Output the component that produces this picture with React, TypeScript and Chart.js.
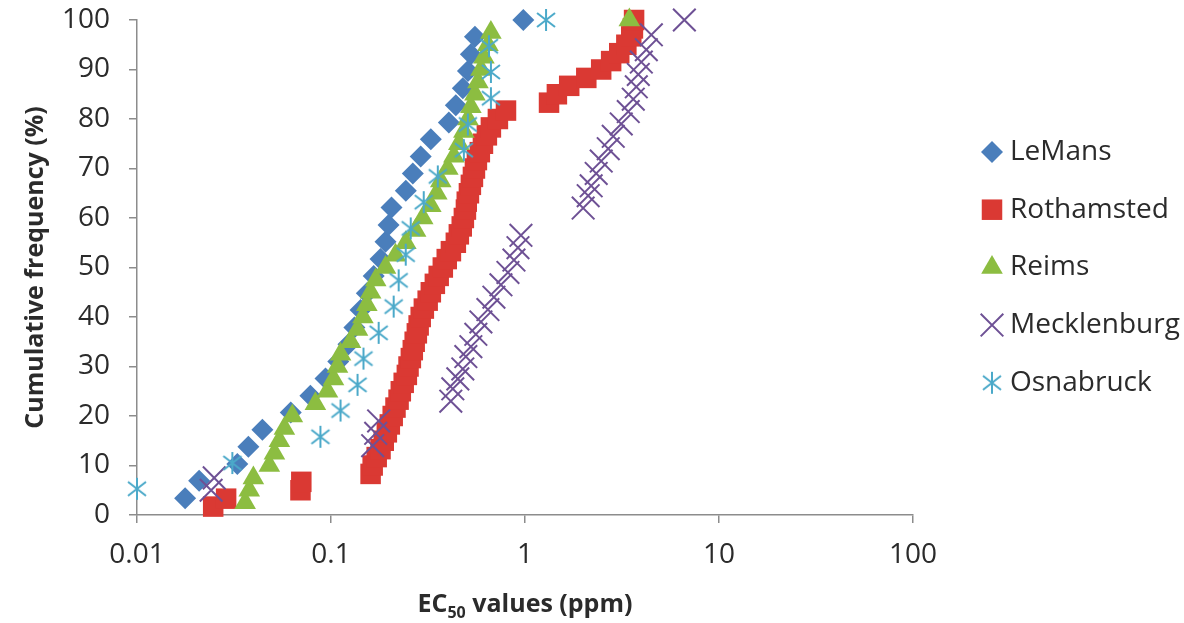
import React, { useEffect, useRef } from 'react';
import { Chart, registerables } from 'chart.js';
import { drawPoint } from 'chart.js/helpers';

Chart.register(...registerables);

const seriesNames = ['LeMans', 'Rothamsted', 'Reims', 'Mecklenburg', 'Osnabruck'];
const xTickValues = [0.01, 0.1, 1, 10, 100];
const xTickLabels = ['0.01', '0.1', '1', '10', '100'];

const leMansEC50 = [0.0177, 0.0209, 0.0329, 0.0375, 0.0443, 0.062, 0.0783, 0.0937, 0.109, 0.123, 0.132, 0.142, 0.153, 0.166, 0.18, 0.191, 0.198, 0.205, 0.243, 0.264, 0.29, 0.327, 0.405, 0.44, 0.478, 0.508, 0.526, 0.552, 0.98];
const leMansFreq = [3.4, 6.9, 10.3, 13.8, 17.2, 20.7, 24.1, 27.6, 31.0, 34.5, 37.9, 41.4, 44.8, 48.3, 51.7, 55.2, 58.6, 62.1, 65.5, 69.0, 72.4, 75.9, 79.3, 82.8, 86.2, 89.7, 93.1, 96.6, 100];

const rothamstedEC50 = [0.0247, 0.0288, 0.0696, 0.0703, 0.16, 0.164, 0.172, 0.18, 0.187, 0.194, 0.201, 0.208, 0.215, 0.223, 0.229, 0.237, 0.246, 0.251, 0.258, 0.264, 0.27, 0.277, 0.283, 0.29, 0.301, 0.315, 0.327, 0.343, 0.359, 0.377, 0.395, 0.415, 0.44, 0.456, 0.472, 0.484, 0.496, 0.501, 0.514, 0.526, 0.539, 0.552, 0.565, 0.585, 0.607, 0.636, 0.667, 0.725, 0.798, 1.33, 1.46, 1.69, 2.07, 2.47, 2.78, 3.06, 3.33, 3.53, 3.6, 3.65];
const rothamstedFreq = [1.7, 3.3, 5.0, 6.7, 8.3, 10.0, 11.7, 13.3, 15.0, 16.7, 18.3, 20.0, 21.7, 23.3, 25.0, 26.7, 28.3, 30.0, 31.7, 33.3, 35.0, 36.7, 38.3, 40.0, 41.7, 43.3, 45.0, 46.7, 48.3, 50.0, 51.7, 53.3, 55.0, 56.7, 58.3, 60.0, 61.7, 63.3, 65.0, 66.7, 68.3, 70.0, 71.7, 73.3, 75.0, 76.7, 78.3, 80.0, 81.7, 83.3, 85.0, 86.7, 88.3, 90.0, 91.7, 93.3, 95.0, 96.7, 98.3, 100];

const reimsEC50 = [0.0361, 0.0379, 0.0398, 0.0481, 0.0511, 0.0542, 0.0575, 0.0632, 0.0831, 0.0959, 0.103, 0.108, 0.112, 0.126, 0.137, 0.146, 0.153, 0.16, 0.17, 0.191, 0.215, 0.243, 0.273, 0.297, 0.327, 0.351, 0.368, 0.4, 0.43, 0.456, 0.484, 0.508, 0.526, 0.552, 0.572, 0.593, 0.614, 0.644, 0.667, 3.45];
const reimsFreq = [2.5, 5.0, 7.5, 10.0, 12.5, 15.0, 17.5, 20.0, 22.5, 25.0, 27.5, 30.0, 32.5, 35.0, 37.5, 40.0, 42.5, 45.0, 47.5, 50.0, 52.5, 55.0, 57.5, 60.0, 62.5, 65.0, 67.5, 70.0, 72.5, 75.0, 77.5, 80.0, 82.5, 85.0, 87.5, 90.0, 92.5, 95.0, 97.5, 100];

const mecklenburgEC50 = [0.0241, 0.025, 0.164, 0.17, 0.176, 0.4145, 0.4245, 0.4506, 0.478, 0.4955, 0.526, 0.558, 0.5925, 0.644, 0.6915, 0.7516, 0.8168, 0.8772, 0.92, 0.953, 1.994, 2.117, 2.193, 2.328, 2.471, 2.686, 2.85, 3.134, 3.406, 3.615, 3.747, 3.837, 3.977, 4.22, 4.48, 6.63];
const mecklenburgFreq = [5.0, 7.5, 14.0, 16.5, 19.0, 23.0, 25.5, 27.5, 29.5, 32.0, 34.0, 36.5, 39.0, 41.5, 44.0, 46.5, 49.0, 51.5, 54.0, 56.5, 62.0, 64.5, 66.5, 69.0, 71.5, 74.0, 76.5, 79.0, 81.5, 84.0, 86.5, 89.0, 91.5, 94.0, 97.0, 100];

const osnabruckEC50 = [0.01, 0.031, 0.0882, 0.112, 0.137, 0.147, 0.176, 0.2104, 0.2233, 0.2427, 0.2575, 0.3006, 0.3552, 0.484, 0.5075, 0.667, 0.667, 0.652, 1.284];
const osnabruckFreq = [5.3, 10.5, 15.8, 21.1, 26.3, 31.6, 36.8, 42.1, 47.4, 52.6, 57.9, 63.2, 68.4, 73.7, 78.9, 84.2, 89.5, 94.7, 100];

const FONT = '"Open Sans", "DejaVu Sans", sans-serif';
const TEXT = '#2b2b2b';
const AXIS = '#8c8c8c';

function toPoints(xs: number[], ys: number[]) {
  return xs.map((x, i) => ({ x, y: ys[i] }));
}

function makeAsterisk(color: string) {
  const c = document.createElement('canvas');
  c.width = 24;
  c.height = 24;
  const g = c.getContext('2d')!;
  g.strokeStyle = color;
  g.lineWidth = 2;
  g.beginPath();
  g.moveTo(12, 1);
  g.lineTo(12, 23);
  g.moveTo(3, 5);
  g.lineTo(21, 19);
  g.moveTo(21, 5);
  g.lineTo(3, 19);
  g.stroke();
  return c;
}

const legendPlugin = {
  id: 'sideLegend',
  afterDraw(chart: any) {
    const ctx = chart.ctx;
    const x0 = 992;
    const top = 152;
    const gap = 57.7;
    chart.data.datasets.forEach((ds: any, i: number) => {
      const y = top + i * gap;
      ctx.save();
      ctx.fillStyle = ds.backgroundColor;
      ctx.strokeStyle = ds.borderColor;
      ctx.lineWidth = ds.borderWidth;
      drawPoint(ctx, { pointStyle: ds.pointStyle, radius: ds.pointRadius, borderWidth: ds.borderWidth, rotation: 0 } as any, x0, y);
      ctx.fillStyle = TEXT;
      ctx.font = `28px ${FONT}`;
      ctx.textAlign = 'left';
      ctx.textBaseline = 'middle';
      ctx.fillText(ds.label, 1010, y);
      ctx.restore();
    });
  },
};

const xTitlePlugin = {
  id: 'xTitle',
  afterDraw(chart: any) {
    const ctx = chart.ctx;
    const area = chart.chartArea;
    const cx = (area.left + area.right) / 2;
    const baseline = 612;
    const main = `bold 25px ${FONT}`;
    const sub = `bold 16px ${FONT}`;
    ctx.save();
    ctx.fillStyle = TEXT;
    ctx.textBaseline = 'alphabetic';
    ctx.textAlign = 'left';
    ctx.font = main;
    const w1 = ctx.measureText('EC').width;
    const w3 = ctx.measureText(' values (ppm)').width;
    ctx.font = sub;
    const w2 = ctx.measureText('50').width;
    let x = cx - (w1 + w2 + w3) / 2;
    ctx.font = main;
    ctx.fillText('EC', x, baseline);
    x += w1;
    ctx.font = sub;
    ctx.fillText('50', x, baseline + 6);
    x += w2;
    ctx.font = main;
    ctx.fillText(' values (ppm)', x, baseline);
    ctx.restore();
  },
};

export default function App() {
  const ref = useRef<HTMLCanvasElement | null>(null);

  useEffect(() => {
    if (!ref.current) return;
    const asterisk = makeAsterisk('#4BA9C9');
    const common = { showLine: false, clip: false as any };
    const chart = new Chart(ref.current, {
      type: 'scatter',
      data: {
        datasets: [
          { ...common, label: seriesNames[0], data: toPoints(leMansEC50, leMansFreq), pointStyle: 'rectRot', pointRadius: 11, backgroundColor: '#4A7EBB', borderColor: '#4A7EBB', borderWidth: 0, order: 4 },
          { ...common, label: seriesNames[1], data: toPoints(rothamstedEC50, rothamstedFreq), pointStyle: 'rect', pointRadius: 14.5, backgroundColor: '#DA3933', borderColor: '#DA3933', borderWidth: 0, order: 3 },
          { ...common, label: seriesNames[2], data: toPoints(reimsEC50, reimsFreq), pointStyle: 'triangle', pointRadius: 12.5, backgroundColor: '#8CBD41', borderColor: '#8CBD41', borderWidth: 0, order: 2 },
          { ...common, label: seriesNames[3], data: toPoints(mecklenburgEC50, mecklenburgFreq), pointStyle: 'crossRot', pointRadius: 16, backgroundColor: '#6E5195', borderColor: '#6E5195', borderWidth: 2, order: 1 },
          { ...common, label: seriesNames[4], data: toPoints(osnabruckEC50, osnabruckFreq), pointStyle: asterisk as any, pointRadius: 12, backgroundColor: '#4BA9C9', borderColor: '#4BA9C9', borderWidth: 0, order: 0 },
        ] as any,
      },
      options: {
        animation: false,
        responsive: false,
        devicePixelRatio: 1,
        layout: { padding: { left: 0, right: 271, top: 20, bottom: 0 } },
        plugins: { legend: { display: false }, tooltip: { enabled: false } },
        scales: {
          x: {
            type: 'logarithmic',
            min: 0.01,
            max: 100,
            afterBuildTicks: (s: any) => {
              s.ticks = xTickValues.map((v) => ({ value: v }));
            },
            afterFit: (s: any) => {
              s.height = 108;
              s.paddingLeft = 0;
              s.paddingRight = 0;
            },
            ticks: {
              autoSkip: false,
              maxRotation: 0,
              padding: 15,
              color: TEXT,
              font: { family: FONT, size: 28 },
              callback: (v: any) => {
                const i = xTickValues.indexOf(Number(v));
                return i >= 0 ? xTickLabels[i] : '';
              },
            },
            grid: { display: true, drawOnChartArea: false, drawTicks: true, tickLength: 8, color: AXIS, lineWidth: 1.5 },
            border: { display: true, color: AXIS, width: 1.5 },
          },
          y: {
            min: 0,
            max: 100,
            afterFit: (s: any) => {
              s.width = 137;
              s.paddingTop = 0;
              s.paddingBottom = 0;
            },
            ticks: {
              stepSize: 10,
              padding: 19,
              color: TEXT,
              font: { family: FONT, size: 28 },
            },
            grid: { display: true, drawOnChartArea: false, drawTicks: true, tickLength: 8, color: AXIS, lineWidth: 1.5 },
            border: { display: true, color: AXIS, width: 1.5 },
            title: {
              display: true,
              text: 'Cumulative frequency (%)',
              color: TEXT,
              font: { family: FONT, size: 25, weight: 'bold' },
              padding: { top: 21, bottom: 0 },
            },
          },
        },
      } as any,
      plugins: [legendPlugin, xTitlePlugin],
    });
    return () => chart.destroy();
  }, []);

  return (
    <div style={{ position: 'absolute', left: 0, top: 0, width: 1184, height: 623, background: '#fff' }}>
      <canvas ref={ref} width={1184} height={623} style={{ display: 'block' }} />
    </div>
  );
}
